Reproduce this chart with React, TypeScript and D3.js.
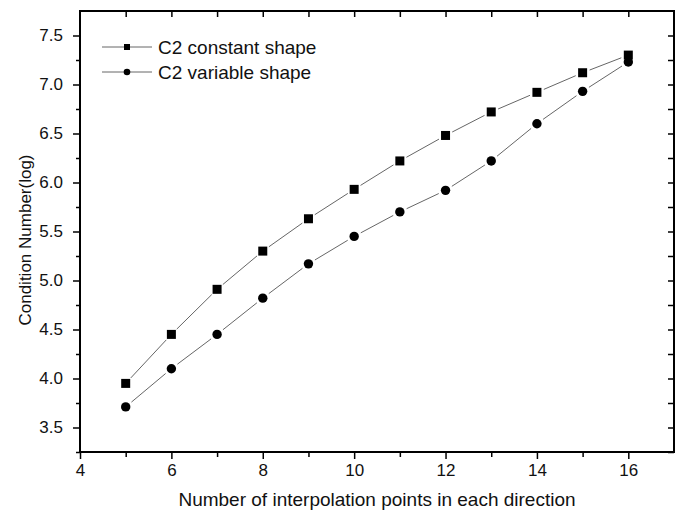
// @ts-nocheck
import React, { useEffect, useRef } from "react";
import * as d3 from "d3";

// data
const pointCounts = [5, 6, 7, 8, 9, 10, 11, 12, 13, 14, 15, 16];
const constantShape = [3.95, 4.45, 4.91, 5.3, 5.63, 5.93, 6.22, 6.48, 6.72, 6.92, 7.12, 7.3];
const variableShape = [3.71, 4.1, 4.45, 4.82, 5.17, 5.45, 5.7, 5.92, 6.22, 6.6, 6.93, 7.23];
const xMajorTicks = [4, 6, 8, 10, 12, 14, 16];
const xMinorTicks = [5, 7, 9, 11, 13, 15];
const yMajorTicks = [3.5, 4.0, 4.5, 5.0, 5.5, 6.0, 6.5, 7.0, 7.5];
const yMinorTicks = [3.25, 3.75, 4.25, 4.75, 5.25, 5.75, 6.25, 6.75, 7.25];
const seriesNames = ["C2 constant shape", "C2 variable shape"];

const FONT = "'Liberation Sans', Arial, sans-serif";

export default function App() {
  const svgRef = useRef();

  useEffect(() => {
    const W = 681;
    const H = 511;
    const margin = { top: 11, right: 7, bottom: 59, left: 80 };
    const width = W - margin.left - margin.right;
    const height = H - margin.top - margin.bottom;

    const root = d3.select(svgRef.current);
    root.selectAll("*").remove();
    const svg = root
      .append("g")
      .attr("transform", `translate(${margin.left},${margin.top})`);

    const x = d3.scaleLinear().domain([4, 17]).range([0, width]);
    const y = d3.scaleLinear().domain([3.25, 7.75]).range([height, 0]);

    const styleAxis = (g) => {
      g.select(".domain").remove();
      g.selectAll("line").attr("stroke", "#000").attr("stroke-width", 1.5);
      g.selectAll("text")
        .attr("fill", "#111")
        .style("font-family", FONT)
        .style("font-size", "17px");
    };

    // bottom axis (outward ticks)
    svg
      .append("g")
      .attr("transform", `translate(0,${height})`)
      .call(d3.axisBottom(x).tickValues(xMajorTicks).tickSize(7).tickPadding(5).tickFormat(d3.format("d")))
      .call(styleAxis);
    svg
      .append("g")
      .attr("transform", `translate(0,${height})`)
      .call(d3.axisBottom(x).tickValues(xMinorTicks).tickSize(5).tickFormat(""))
      .call(styleAxis);

    // left axis (outward ticks)
    svg
      .append("g")
      .call(d3.axisLeft(y).tickValues(yMajorTicks).tickSize(7).tickPadding(10).tickFormat(d3.format(".1f")))
      .call(styleAxis);
    svg
      .append("g")
      .call(d3.axisLeft(y).tickValues(yMinorTicks).tickSize(4).tickFormat(""))
      .call(styleAxis);

    // top and right mirrored axes (inward ticks)
    svg
      .append("g")
      .call(d3.axisTop(x).tickValues(pointCounts).tickSize(-6).tickFormat(""))
      .call(styleAxis);
    svg
      .append("g")
      .attr("transform", `translate(${width},0)`)
      .call(d3.axisRight(y).tickValues([...yMajorTicks, ...yMinorTicks]).tickSize(-6).tickFormat(""))
      .call(styleAxis);

    // frame
    svg
      .append("rect")
      .attr("x", 0)
      .attr("y", 0)
      .attr("width", width)
      .attr("height", height)
      .attr("fill", "none")
      .attr("stroke", "#000")
      .attr("stroke-width", 2);

    // series lines, broken around markers
    const gap = 7.5;
    const drawSeries = (values, marker) => {
      const pts = pointCounts.map((c, i) => [x(c), y(values[i])]);
      const segs = d3.pairs(pts).map(([a, b]) => {
        const dx = b[0] - a[0];
        const dy = b[1] - a[1];
        const len = Math.hypot(dx, dy);
        const ux = dx / len;
        const uy = dy / len;
        return [a[0] + ux * gap, a[1] + uy * gap, b[0] - ux * gap, b[1] - uy * gap];
      });
      svg
        .append("g")
        .selectAll("line")
        .data(segs)
        .enter()
        .append("line")
        .attr("x1", (d) => d[0])
        .attr("y1", (d) => d[1])
        .attr("x2", (d) => d[2])
        .attr("y2", (d) => d[3])
        .attr("stroke", "#666")
        .attr("stroke-width", 1);

      const mg = svg.append("g");
      if (marker === "square") {
        mg.selectAll("rect")
          .data(pts)
          .enter()
          .append("rect")
          .attr("x", (d) => d[0] - 4.5)
          .attr("y", (d) => d[1] - 4.5)
          .attr("width", 9)
          .attr("height", 9)
          .attr("fill", "#000");
      } else {
        mg.selectAll("circle")
          .data(pts)
          .enter()
          .append("circle")
          .attr("cx", (d) => d[0])
          .attr("cy", (d) => d[1])
          .attr("r", 4.7)
          .attr("fill", "#000");
      }
    };
    drawSeries(constantShape, "square");
    drawSeries(variableShape, "circle");

    // legend
    const legend = svg.append("g").attr("transform", "translate(22,36)");
    seriesNames.forEach((name, i) => {
      const row = legend.append("g").attr("transform", `translate(0,${i * 25})`);
      row
        .append("line")
        .attr("x1", 0)
        .attr("x2", 50)
        .attr("y1", 0)
        .attr("y2", 0)
        .attr("stroke", "#666")
        .attr("stroke-width", 1);
      if (i === 0) {
        row.append("rect").attr("x", 22).attr("y", -3).attr("width", 6).attr("height", 6).attr("fill", "#000");
      } else {
        row.append("circle").attr("cx", 25).attr("cy", 0).attr("r", 3.3).attr("fill", "#000");
      }
      row
        .append("text")
        .attr("x", 56)
        .attr("y", 7)
        .text(name)
        .attr("fill", "#111")
        .style("font-family", FONT)
        .style("font-size", "19px");
    });

    // axis titles
    root
      .append("text")
      .attr("x", margin.left + width / 2)
      .attr("y", 506)
      .attr("text-anchor", "middle")
      .text("Number of interpolation points in each direction")
      .attr("fill", "#111")
      .style("font-family", FONT)
      .style("font-size", "19px");

    root
      .append("text")
      .attr("transform", "translate(31,240) rotate(-90)")
      .attr("text-anchor", "middle")
      .text("Condition Number(log)")
      .attr("fill", "#111")
      .style("font-family", FONT)
      .style("font-size", "17px");
  }, []);

  return (
    <svg
      ref={svgRef}
      width={681}
      height={511}
      style={{ position: "absolute", left: 0, top: 0, background: "#fff" }}
    ></svg>
  );
}
